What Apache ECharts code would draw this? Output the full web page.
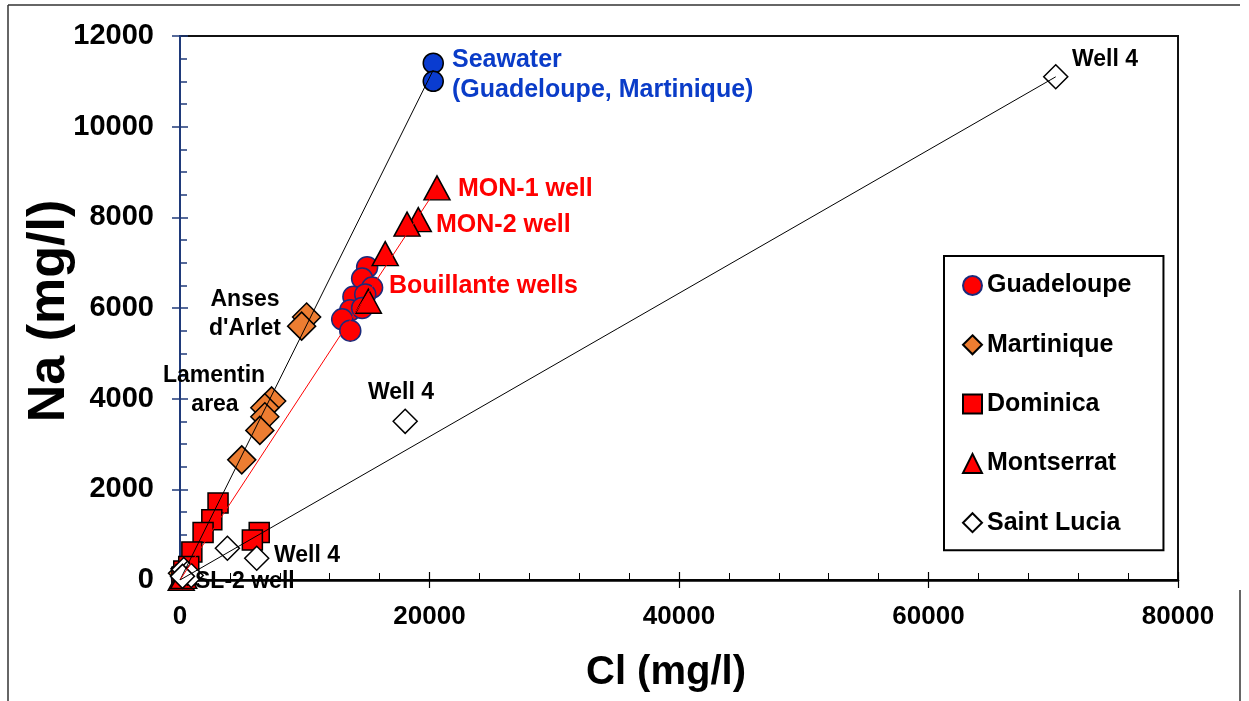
<!DOCTYPE html>
<html><head><meta charset="utf-8">
<script src="https://cdn.jsdelivr.net/npm/echarts@6/dist/echarts.min.js"></script>
<style>html,body{margin:0;padding:0;background:#fff}#c{width:1249px;height:701px}</style>
</head><body><div id="c"></div>
<script>
// ---- data (Cl mg/l, Na mg/l) ----
const xTicks = [0, 20000, 40000, 60000, 80000];
const yTicks = [0, 2000, 4000, 6000, 8000, 10000, 12000];
const guadeloupe = [[15000,6900],[14600,6650],[15400,6450],[13900,6250],[14850,6300],[13650,5950],[14600,6000],[13000,5750],[13650,5500],[150,60],[350,120]];
const seawater = [[20300,11400],[20300,11000]];
const martinique = [[10150,5800],[9750,5600],[7350,3950],[6800,3800],[6800,3600],[6400,3300],[4950,2650],[400,250],[200,150]];
const dominica = [[3050,1700],[2550,1330],[1850,1050],[950,620],[6350,1050],[5800,880],[300,200],[500,120],[150,60],[700,300]];
const montserrat = [[20600,8650],[19100,7950],[18200,7850],[16450,7200],[15100,6150],[100,40],[300,80]];
const saintLucia = [[70200,11100],[18050,3500],[3800,700],[6150,480],[300,230],[600,150],[900,100],[200,80]];
// mixing lines from origin to end members
const origin = [0,0];
const seawaterLine = [origin, [20300,11250]];
const monLine = [origin, montserrat[0]];
const slLine = [origin, saintLucia[0]];

const FF = "'Liberation Sans', Arial, sans-serif";
const chart = echarts.init(document.getElementById('c'), null, {renderer:'canvas'});

function txt(t, x, y, color, size, align){
  return {type:'text', x:x, y:y, z:100, style:{text:t, fill:color, font:'bold '+size+'px '+FF, textAlign:align||'left', textVerticalAlign:'middle'}};
}
const RED = '#FF0000', BLUE = '#0A3CC8', NAVY = '#1F3A7A';
const plain = v => String(v);

chart.setOption({
  animation:false,
  backgroundColor:'#fff',
  grid:{left:180, right:71, top:36, bottom:121, show:true, borderColor:'#111', borderWidth:2, backgroundColor:'transparent'},
  xAxis:[{
    type:'value', min:xTicks[0], max:xTicks[xTicks.length-1], interval:20000,
    axisLine:{show:true, onZero:false, lineStyle:{color:'#000', width:2.5}},
    axisTick:{show:true, inside:true, length:8, lineStyle:{color:'#000', width:1.2}},
    minorTick:{show:true, splitNumber:5, length:7, lineStyle:{color:'#000', width:1}},
    splitLine:{show:false},
    axisLabel:{fontSize:26, fontWeight:'bold', color:'#000', fontFamily:FF, margin:24, formatter:plain}
  },{
    type:'value', min:xTicks[0], max:xTicks[xTicks.length-1], interval:20000, position:'bottom',
    axisLine:{show:false, onZero:false}, axisTick:{show:true, inside:false, length:8, lineStyle:{color:'#000', width:1.2}},
    axisLabel:{show:false}, splitLine:{show:false}
  }],
  yAxis:[{
    type:'value', min:yTicks[0], max:yTicks[yTicks.length-1], interval:2000,
    axisLine:{show:true, onZero:false, lineStyle:{color:NAVY, width:2}},
    axisTick:{show:true, inside:true, length:8, lineStyle:{color:NAVY, width:1.5}},
    minorTick:{show:true, splitNumber:4, length:7, lineStyle:{color:NAVY, width:1.5}},
    splitLine:{show:false},
    axisLabel:{fontSize:29, fontWeight:'bold', color:'#000', fontFamily:FF, margin:26, formatter:plain}
  },{
    type:'value', min:yTicks[0], max:yTicks[yTicks.length-1], interval:2000, position:'left',
    axisLine:{show:false, onZero:false}, axisTick:{show:true, inside:false, length:8, lineStyle:{color:NAVY, width:1.5}},
    axisLabel:{show:false}, splitLine:{show:false}
  }],
  legend:{
    orient:'vertical', left:944, top:256,
    padding:[17,32,15,18], itemGap:34.3, itemWidth:19, itemHeight:19,
    borderColor:'#000', borderWidth:2, backgroundColor:'#fff',
    textStyle:{fontSize:25, fontWeight:'bold', color:'#000', fontFamily:FF},
    data:['Guadeloupe','Martinique','Dominica','Montserrat','Saint Lucia']
  },
  series:[
    {name:'Guadeloupe', type:'scatter', symbol:'circle', symbolSize:21, data:guadeloupe, z:2,
      itemStyle:{color:RED, borderColor:'#1B2A7A', borderWidth:1.5, opacity:1}},
    {name:'Seawater', type:'scatter', symbol:'circle', symbolSize:20, data:seawater, z:2,
      itemStyle:{color:'#0A3CD0', borderColor:'#000', borderWidth:1.5, opacity:1}},
    {name:'Martinique', type:'scatter', symbol:'diamond', symbolSize:[28,28], data:martinique, z:2,
      itemStyle:{color:'#ED7D31', borderColor:'#000', borderWidth:1.5, opacity:1}},
    {name:'Dominica', type:'scatter', symbol:'rect', symbolSize:20, data:dominica, z:2,
      itemStyle:{color:RED, borderColor:'#000', borderWidth:1.5, opacity:1}},
    {name:'Montserrat', type:'scatter', symbol:'triangle', symbolSize:[26,24], data:montserrat, z:2,
      itemStyle:{color:RED, borderColor:'#000', borderWidth:1.5, opacity:1}},
    {name:'Saint Lucia', type:'scatter', symbol:'diamond', symbolSize:[24,24], data:saintLucia, z:2,
      itemStyle:{color:'#fff', borderColor:'#000', borderWidth:1.5, opacity:1}},
    {name:'mixSW', type:'line', data:seawaterLine, showSymbol:false, symbol:'none', z:5, silent:true,
      lineStyle:{color:'#000', width:1}},
    {name:'mixMON', type:'line', data:monLine, showSymbol:false, symbol:'none', z:5, silent:true,
      lineStyle:{color:RED, width:1}},
    {name:'mixSL', type:'line', data:slLine, showSymbol:false, symbol:'none', z:5, silent:true,
      lineStyle:{color:'#000', width:1}}
  ],
  graphic:[
    {type:'line', z:0, shape:{x1:8, y1:5, x2:1240, y2:5}, style:{stroke:'#333', lineWidth:1.5}},
    {type:'line', z:0, shape:{x1:8, y1:5, x2:8, y2:701}, style:{stroke:'#333', lineWidth:1.5}},
    {type:'line', z:0, shape:{x1:1240, y1:590, x2:1240, y2:701}, style:{stroke:'#333', lineWidth:1.5}},
    {type:'text', x:50, y:311, rotation:Math.PI/2, z:100, style:{text:'Na (mg/l)', fill:'#000', font:'bold 52px '+FF, textAlign:'center', textVerticalAlign:'middle'}},
    txt('Cl (mg/l)', 666, 673, '#000', 40, 'center'),
    txt('Seawater', 452, 60, BLUE, 25),
    txt('(Guadeloupe, Martinique)', 452, 90, BLUE, 25),
    txt('Well 4', 1072, 60, '#000', 23),
    txt('MON-1 well', 458, 189, RED, 25),
    txt('MON-2 well', 436, 225, RED, 25),
    txt('Bouillante wells', 389, 286, RED, 25),
    txt('Anses', 245, 300, '#000', 23, 'center'),
    txt("d'Arlet", 245, 329, '#000', 23, 'center'),
    txt('Lamentin', 214, 376, '#000', 23, 'center'),
    txt('area', 215, 405, '#000', 23, 'center'),
    txt('Well 4', 401, 393, '#000', 23, 'center'),
    txt('Well 4', 274, 556, '#000', 23),
    txt('SL-2 well', 195, 582, '#000', 23)
  ]
});
</script></body></html>
